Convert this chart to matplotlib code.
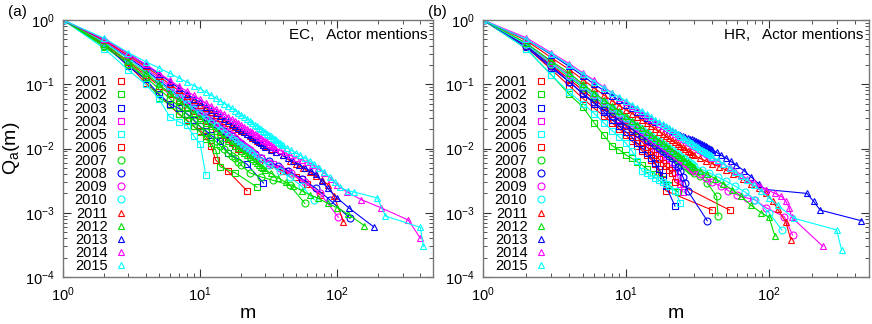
import matplotlib
matplotlib.use("Agg")
import matplotlib.pyplot as plt
from matplotlib.lines import Line2D
from matplotlib.ticker import LogLocator, NullFormatter

plt.rcParams["font.family"] = ["Liberation Sans", "DejaVu Sans"]
plt.rcParams["mathtext.fontset"] = "custom"
plt.rcParams["mathtext.rm"] = "Liberation Sans"
plt.rcParams["mathtext.it"] = "Liberation Sans:italic"

years = list(range(2001, 2016))
colors = ["#ff0000", "#00dd00", "#0000ff", "#ff00ff", "#00ffff"] * 3
markers = ["s"] * 6 + ["o"] * 4 + ["^"] * 5


def r(a, b):
    return list(range(a, b + 1))


# ---- EC, actor mentions: m and Q_a(m) per year ----
ec_m = [
    r(1, 13) + [16, 22],
    r(1, 14) + [18, 26],
    r(1, 12) + [14, 16, 22, 29],
    r(1, 20) + [24, 28, 34, 42, 55],
    r(1, 11),
    r(1, 20) + [23, 27, 32, 40, 50, 60, 75],
    r(1, 20) + [23, 28, 34, 45, 58],
    r(1, 25) + [28, 32, 37, 44, 55, 70, 88, 124],
    r(1, 25) + [28, 32, 38, 46, 58, 75, 102],
    r(1, 25) + [28, 32, 38, 45, 55, 68],
    r(1, 30) + [33, 36, 40, 45, 50, 56, 63, 70, 78, 86, 95, 111],
    r(1, 30) + [33, 37, 42, 48, 55, 63, 72, 85, 100, 120, 158],
    r(1, 30) + [33, 36, 40, 44, 48, 53, 58, 64, 70, 77, 85, 100, 121, 185],
    r(1, 35) + [38, 41, 45, 50, 55, 60, 66, 72, 80, 90, 100, 118, 150, 208, 330, 405],
    r(1, 40) + [43, 46, 50, 54, 58, 63, 68, 74, 80, 88, 96, 105, 120, 133, 196, 225, 405, 425],
]
ec_q = [
    [1, 0.40, 0.20, 0.105, 0.07, 0.047, 0.034, 0.028, 0.022, 0.019, 0.0157, 0.011, 0.0066, 0.0044, 0.0022],
    [1, 0.38, 0.21, 0.12, 0.062, 0.048, 0.035, 0.027, 0.022, 0.018, 0.014, 0.012, 0.0095, 0.0052, 0.0042, 0.0025],
    [1, 0.42, 0.19, 0.12, 0.07, 0.05, 0.042, 0.035, 0.028, 0.022, 0.019, 0.016, 0.013, 0.0085, 0.0057, 0.0029],
    [1, 0.45, 0.25, 0.16, 0.11, 0.08, 0.063, 0.05, 0.042, 0.035, 0.03, 0.026, 0.022, 0.019, 0.017, 0.015,
     0.013, 0.012, 0.011, 0.010, 0.0085, 0.0072, 0.0058, 0.0045, 0.0034],
    [1, 0.36, 0.166, 0.10, 0.06, 0.031, 0.026, 0.023, 0.0157, 0.0118, 0.0039],
    [1, 0.42, 0.22, 0.14, 0.095, 0.07, 0.055, 0.045, 0.038, 0.032, 0.027, 0.024, 0.021, 0.018, 0.016, 0.014,
     0.0125, 0.011, 0.010, 0.009, 0.0078, 0.0065, 0.0055, 0.0045, 0.0036, 0.0028, 0.0019],
    [1, 0.40, 0.21, 0.13, 0.085, 0.06, 0.045, 0.034, 0.027, 0.022, 0.018, 0.015, 0.013, 0.011, 0.0097, 0.0086,
     0.0077, 0.007, 0.0062, 0.0055, 0.0042, 0.0036, 0.0032, 0.0027, 0.0014],
    [1, 0.46, 0.26, 0.17, 0.115, 0.085, 0.065, 0.052, 0.043, 0.036, 0.031, 0.027, 0.024, 0.021, 0.019, 0.017,
     0.0155, 0.014, 0.0128, 0.0118, 0.011, 0.0102, 0.0095, 0.0088, 0.0082, 0.0072, 0.0063, 0.0054, 0.0045,
     0.0034, 0.0024, 0.0016, 0.00082],
    [1, 0.47, 0.27, 0.18, 0.125, 0.092, 0.07, 0.056, 0.046, 0.039, 0.033, 0.029, 0.025, 0.022, 0.02, 0.018,
     0.016, 0.0145, 0.0132, 0.012, 0.011, 0.0102, 0.0094, 0.0087, 0.008, 0.007, 0.006, 0.005, 0.0041, 0.003,
     0.002, 0.00085],
    [1, 0.45, 0.25, 0.16, 0.11, 0.082, 0.063, 0.05, 0.041, 0.034, 0.029, 0.025, 0.022, 0.0195, 0.0175, 0.0158,
     0.0143, 0.013, 0.0119, 0.011, 0.0101, 0.0094, 0.0087, 0.0081, 0.0075, 0.0064, 0.0055, 0.0045, 0.0036,
     0.0026, 0.0016],
    [1, 0.48, 0.28, 0.19, 0.135, 0.1, 0.08, 0.066, 0.056, 0.048, 0.042, 0.037, 0.033, 0.03, 0.027, 0.025,
     0.023, 0.0215, 0.02, 0.019, 0.0178, 0.0167, 0.0157, 0.0148, 0.014, 0.0133, 0.0126, 0.012, 0.0114, 0.0108,
     0.0097, 0.0088, 0.0078, 0.0065, 0.0057, 0.005, 0.0043, 0.0037, 0.0032, 0.0027, 0.0018, 0.00073],
    [1, 0.43, 0.23, 0.15, 0.1, 0.073, 0.056, 0.044, 0.036, 0.03, 0.025, 0.022, 0.019, 0.0167, 0.0148, 0.0133,
     0.012, 0.011, 0.0101, 0.0093, 0.0086, 0.008, 0.0074, 0.0069, 0.0064, 0.006, 0.0056, 0.0052, 0.0049,
     0.0046, 0.0041, 0.0035, 0.003, 0.0026, 0.0022, 0.0019, 0.0017, 0.0014, 0.0012, 0.00095, 0.00063],
    [1, 0.5, 0.3, 0.2, 0.145, 0.11, 0.087, 0.071, 0.06, 0.052, 0.045, 0.04, 0.036, 0.032, 0.029, 0.0265,
     0.0243, 0.0225, 0.0208, 0.0194, 0.0181, 0.017, 0.016, 0.0151, 0.0142, 0.0134, 0.0127, 0.012, 0.0113,
     0.0106, 0.0095, 0.0087, 0.0078, 0.007, 0.0063, 0.0056, 0.005, 0.0045, 0.004, 0.0031, 0.0024, 0.0017,
     0.0012, 0.0006],
    [1, 0.5, 0.3, 0.205, 0.15, 0.115, 0.093, 0.078, 0.067, 0.058, 0.051, 0.046, 0.041, 0.037, 0.034, 0.031,
     0.0285, 0.0265, 0.0247, 0.023, 0.0215, 0.0202, 0.019, 0.0179, 0.0169, 0.016, 0.0152, 0.0144, 0.0137,
     0.013, 0.0124, 0.0118, 0.0113, 0.0108, 0.0103, 0.0094, 0.0087, 0.0079, 0.0072, 0.0067, 0.0062, 0.0056,
     0.0049, 0.0042, 0.0034, 0.0027, 0.0021, 0.0016, 0.0012, 0.00077, 0.0004],
    [1, 0.52, 0.31, 0.225, 0.18, 0.148, 0.125, 0.108, 0.095, 0.085, 0.076, 0.068, 0.061, 0.055, 0.05, 0.046,
     0.042, 0.039, 0.036, 0.033, 0.031, 0.029, 0.027, 0.025, 0.0235, 0.022, 0.021, 0.02, 0.019, 0.018, 0.017,
     0.0162, 0.0154, 0.0147, 0.014, 0.0134, 0.0128, 0.0122, 0.0117, 0.0112, 0.0102, 0.0094, 0.0085, 0.0078,
     0.0071, 0.0064, 0.0057, 0.005, 0.0043, 0.0036, 0.003, 0.0025, 0.0022, 0.0021, 0.0017, 0.00089, 0.00059,
     0.0003],
]

# ---- HR, actor mentions ----
hr_m = [
    r(1, 19) + [40],
    r(1, 14) + [16, 18, 20, 23],
    r(1, 19) + [22],
    r(1, 25),
    r(1, 20) + [22, 24],
    r(1, 22) + [53],
    r(1, 30) + [33, 37, 43, 44],
    r(1, 27) + [37],
    r(1, 30) + [33, 36, 40, 46, 52, 60, 70, 79, 95, 128, 146],
    r(1, 30) + [34, 38, 44, 50, 58, 68, 80, 100, 123],
    r(1, 30) + [33, 36, 40, 45, 50, 56, 66, 75, 85, 95, 107, 115, 131, 142],
    r(1, 30) + [33, 37, 42, 48, 55, 64, 75, 88, 100, 110],
    r(1, 40) + [43, 46, 50, 54, 59, 67, 75, 85, 95, 184, 205, 228, 443],
    r(1, 40) + [44, 48, 53, 58, 64, 70, 78, 87, 96, 110, 122, 131, 138, 144, 238],
    r(1, 40) + [44, 48, 53, 58, 64, 70, 78, 88, 100, 115, 150, 297, 322],
]
hr_q = [
    [1, 0.38, 0.17, 0.095, 0.06, 0.042, 0.032, 0.025, 0.02, 0.016, 0.013, 0.011, 0.0092, 0.0078, 0.0067,
     0.0057, 0.0043, 0.0032, 0.0022, 0.0011],
    [1, 0.36, 0.14, 0.07, 0.044, 0.025, 0.016, 0.011, 0.0095, 0.0079, 0.007, 0.0062, 0.0055, 0.0048, 0.004,
     0.0033, 0.0027, 0.0021],
    [1, 0.38, 0.18, 0.11, 0.07, 0.05, 0.037, 0.028, 0.022, 0.018, 0.015, 0.012, 0.01, 0.0085, 0.0072, 0.006,
     0.0048, 0.0037, 0.0026, 0.00127],
    [1, 0.4, 0.19, 0.12, 0.08, 0.058, 0.045, 0.036, 0.029, 0.024, 0.02, 0.017, 0.0145, 0.0125, 0.011, 0.0097,
     0.0085, 0.0075, 0.0066, 0.0058, 0.005, 0.0043, 0.0036, 0.0028, 0.0021],
    [1, 0.36, 0.14, 0.075, 0.05, 0.035, 0.025, 0.019, 0.015, 0.012, 0.0092, 0.0065, 0.0044, 0.0041, 0.0038,
     0.0035, 0.0032, 0.003, 0.0028, 0.0026, 0.0022, 0.0014],
    [1, 0.4, 0.2, 0.12, 0.08, 0.058, 0.044, 0.034, 0.027, 0.022, 0.018, 0.015, 0.0125, 0.0105, 0.009, 0.0078,
     0.0068, 0.006, 0.0053, 0.0047, 0.0041, 0.003, 0.0011],
    [1, 0.42, 0.21, 0.13, 0.088, 0.064, 0.049, 0.039, 0.032, 0.027, 0.023, 0.0195, 0.017, 0.015, 0.0134,
     0.012, 0.0108, 0.0098, 0.009, 0.0083, 0.0077, 0.0072, 0.0067, 0.0062, 0.0058, 0.0054, 0.005, 0.0047,
     0.0044, 0.0041, 0.0037, 0.0029, 0.0018, 0.0009],
    [1, 0.4, 0.19, 0.11, 0.072, 0.052, 0.04, 0.032, 0.027, 0.023, 0.02, 0.0175, 0.0155, 0.0138, 0.0124,
     0.0112, 0.0101, 0.0092, 0.0084, 0.0077, 0.007, 0.0058, 0.0051, 0.0045, 0.0036, 0.0029, 0.0022, 0.00075],
    [1, 0.43, 0.22, 0.14, 0.095, 0.07, 0.054, 0.043, 0.035, 0.029, 0.025, 0.0215, 0.0188, 0.0166, 0.0148,
     0.0133, 0.012, 0.011, 0.0101, 0.0093, 0.0086, 0.008, 0.0074, 0.0069, 0.0064, 0.006, 0.0056, 0.0052,
     0.0048, 0.0045, 0.004, 0.0035, 0.003, 0.0026, 0.0022, 0.0019, 0.0017, 0.0016, 0.0012, 0.00087, 0.00045],
    [1, 0.42, 0.21, 0.135, 0.093, 0.069, 0.053, 0.043, 0.036, 0.03, 0.026, 0.0225, 0.0198, 0.0176, 0.0158,
     0.0143, 0.013, 0.0119, 0.011, 0.0102, 0.0095, 0.0088, 0.0082, 0.0077, 0.0072, 0.0068, 0.0064, 0.006,
     0.0057, 0.0054, 0.0047, 0.0042, 0.0036, 0.0031, 0.0026, 0.0021, 0.0016, 0.001, 0.00054],
    [1, 0.48, 0.26, 0.17, 0.118, 0.087, 0.068, 0.055, 0.046, 0.04, 0.035, 0.031, 0.0275, 0.0245, 0.022, 0.02,
     0.0183, 0.0168, 0.0155, 0.0144, 0.0134, 0.0125, 0.0117, 0.011, 0.0104, 0.0098, 0.0092, 0.0087, 0.0082,
     0.0078, 0.007, 0.0064, 0.0058, 0.0052, 0.0046, 0.004, 0.0033, 0.0028, 0.0024, 0.002, 0.0015, 0.00113,
     0.00072, 0.00038],
    [1, 0.44, 0.23, 0.15, 0.1, 0.074, 0.057, 0.046, 0.038, 0.032, 0.027, 0.0235, 0.0205, 0.018, 0.016, 0.0145,
     0.0132, 0.012, 0.011, 0.0101, 0.0093, 0.0086, 0.008, 0.0075, 0.007, 0.0065, 0.0061, 0.0057, 0.0054,
     0.0051, 0.0045, 0.004, 0.0034, 0.0028, 0.0023, 0.0018, 0.0013, 0.001, 0.00085, 0.00043],
    [1, 0.5, 0.29, 0.19, 0.135, 0.1, 0.08, 0.066, 0.056, 0.048, 0.042, 0.037, 0.033, 0.03, 0.0275, 0.0255,
     0.0237, 0.0222, 0.0208, 0.0196, 0.0186, 0.0178, 0.017, 0.0163, 0.0157, 0.0152, 0.0147, 0.0143, 0.0139,
     0.0135, 0.0131, 0.0127, 0.0123, 0.0119, 0.0115, 0.0111, 0.0107, 0.0103, 0.0099, 0.0095, 0.0087, 0.0079,
     0.0071, 0.0063, 0.0055, 0.0045, 0.0036, 0.0028, 0.0023, 0.002, 0.0015, 0.0011, 0.00075],
    [1, 0.53, 0.31, 0.21, 0.15, 0.115, 0.09, 0.074, 0.062, 0.053, 0.046, 0.041, 0.036, 0.032, 0.029, 0.0265,
     0.0243, 0.0224, 0.0207, 0.0192, 0.0179, 0.0168, 0.0158, 0.0149, 0.0141, 0.0134, 0.0127, 0.0121, 0.0115,
     0.011, 0.0105, 0.01, 0.0096, 0.0092, 0.0088, 0.0084, 0.0081, 0.0078, 0.0075, 0.0072, 0.0064, 0.0057,
     0.0051, 0.0045, 0.0039, 0.0034, 0.003, 0.0026, 0.0023, 0.002, 0.0018, 0.0015, 0.0012, 0.00085, 0.0003],
    [1, 0.5, 0.3, 0.2, 0.145, 0.11, 0.088, 0.073, 0.063, 0.055, 0.048, 0.043, 0.038, 0.034, 0.031, 0.028,
     0.0258, 0.0238, 0.022, 0.0205, 0.0191, 0.0179, 0.0168, 0.0158, 0.0149, 0.0141, 0.0134, 0.0127, 0.0121,
     0.0115, 0.011, 0.0105, 0.01, 0.0096, 0.0092, 0.0088, 0.0084, 0.0081, 0.0078, 0.0075, 0.0066, 0.0058,
     0.005, 0.0043, 0.0037, 0.0032, 0.0027, 0.0022, 0.0017, 0.0013, 0.00082, 0.00054, 0.00026],
]

fig = plt.figure(figsize=(8.72, 3.24), dpi=100)
ax_a = fig.add_axes([63 / 872, 47 / 324, 370 / 872, 257 / 324])
ax_b = fig.add_axes([483 / 872, 47 / 324, 386 / 872, 257 / 324])

panels = [(ax_a, ec_m, ec_q, "EC,   Actor mentions", "(a)", 8),
          (ax_b, hr_m, hr_q, "HR,   Actor mentions", "(b)", 428)]

for ax, ms, qs, title, tag, tag_x in panels:
    for m, q, c, mk in zip(ms, qs, colors, markers):
        assert len(m) == len(q)
        ax.plot(m, q, color=c, lw=0.8, marker=mk, ms=5, mfc="none", mec=c, mew=0.8)
    ax.set_xscale("log")
    ax.set_yscale("log")
    ax.set_xlim(1, 500)
    ax.set_ylim(1e-4, 1)
    ax.xaxis.set_major_locator(LogLocator(base=10, numticks=10))
    ax.yaxis.set_major_locator(LogLocator(base=10, numticks=10))
    ax.xaxis.set_minor_locator(LogLocator(base=10, subs=range(2, 10), numticks=20))
    ax.yaxis.set_minor_locator(LogLocator(base=10, subs=range(2, 10), numticks=20))
    ax.xaxis.set_minor_formatter(NullFormatter())
    ax.yaxis.set_minor_formatter(NullFormatter())
    ax.tick_params(which="both", direction="in", top=True, right=True, labelsize=10.5, color="#333333")
    ax.tick_params(which="major", length=6, width=0.8, pad=6)
    ax.tick_params(which="minor", length=3, width=0.6)
    for sp in ax.spines.values():
        sp.set_color("#777777")
        sp.set_linewidth(1.0)
    ax.set_xlabel("m", fontsize=14, labelpad=1)
    ax.text(0.985, 0.94, title, transform=ax.transAxes, ha="right", va="center", fontsize=11)
    fig.text(tag_x / 872, 1 - 12 / 324, tag, ha="left", va="center", fontsize=11)

    handles = [Line2D([], [], ls="None", marker=mk, ms=5, mfc="none", mec=c, mew=0.8)
               for c, mk in zip(colors, markers)]
    ax.legend(handles, [str(y) for y in years], loc="upper left", bbox_to_anchor=(0.0, 0.83),
              markerfirst=False, frameon=False, fontsize=10.5, labelspacing=-0.06,
              handlelength=0.8, handletextpad=0.5, borderpad=0.3)

ax_a.set_ylabel("Q$_\\mathrm{a}$(m)", fontsize=14, labelpad=2)

fig.savefig("out.png", dpi=100)
